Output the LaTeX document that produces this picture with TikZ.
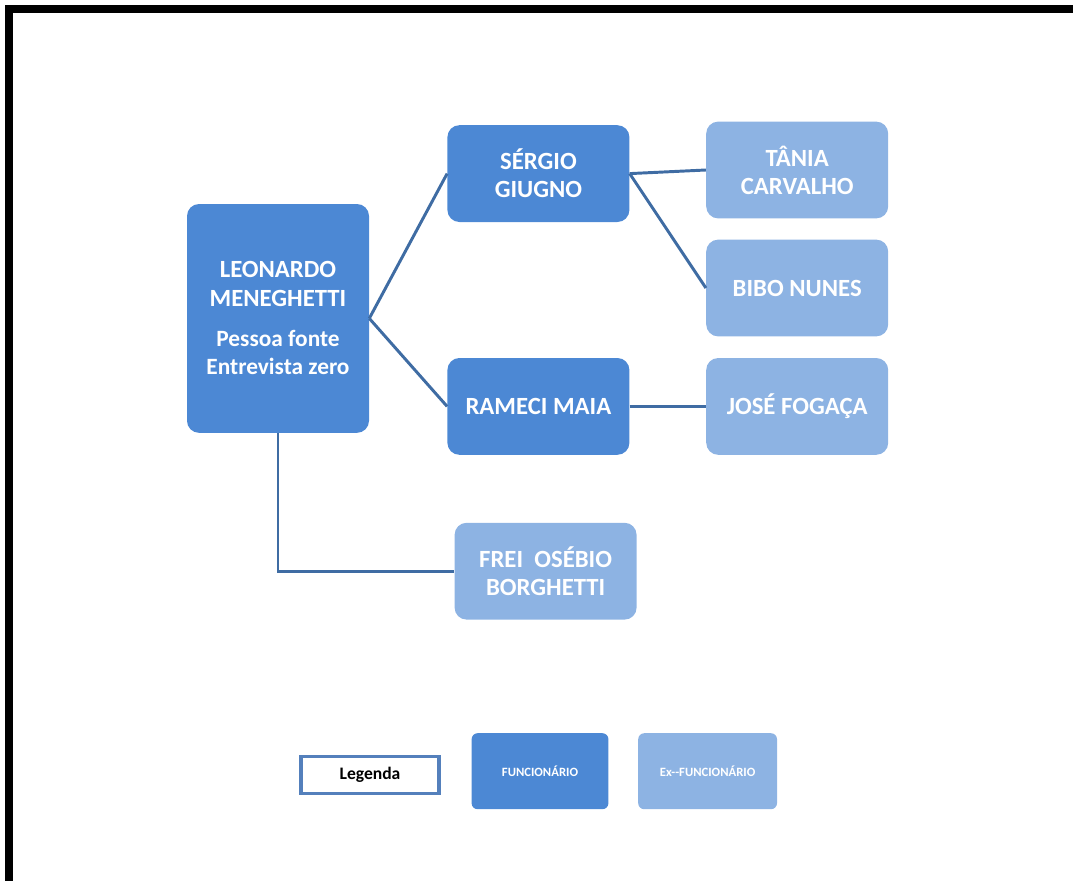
\documentclass[tikz,border=0pt]{standalone}
\usepackage{fontspec}
\setmainfont{Carlito}
\definecolor{staffblue}{RGB}{76,136,212}
\definecolor{formerblue}{RGB}{141,179,227}
\definecolor{linkblue}{RGB}{63,108,163}
\definecolor{legendblue}{RGB}{84,128,188}

\begin{document}
\begin{tikzpicture}[
    person/.style={rectangle, rounded corners=0.3cm, fill=staffblue, text=white, align=center, minimum width=4.55cm, minimum height=2.42cm, font=\fontsize{17.6}{20}\selectfont\bfseries},
    former/.style={person, fill=formerblue},
    link/.style={draw=linkblue, line width=2.1pt},
    legbox/.style={rectangle, rounded corners=0.15cm, text=white, minimum width=3.42cm, minimum height=1.9cm, font=\fontsize{9}{10}\selectfont\bfseries}
]
    \useasboundingbox (0,0) rectangle (26.825,-22.025);
    % Frame (left and top only)
    \fill (0.125,-0.125) rectangle (0.325,-22.025);
    \fill (0.125,-0.125) rectangle (26.825,-0.325);

    % Column 1: source
    \node[person, minimum height=5.72cm] (leo) at (6.95,-7.96) {LEONARDO\\MENEGHETTI\\[9pt]{\fontsize{16.6}{20}\selectfont Pessoa fonte}\\{\fontsize{16.6}{20}\selectfont Entrevista zero}};

    % Column 2
    \node[person] (sergio) at (13.46,-4.34) {SÉRGIO\\GIUGNO};
    \node[person] (rameci) at (13.46,-10.16) {RAMECI MAIA};
    \node[former] (frei) at (13.64,-14.28) {FREI \ OSÉBIO\\BORGHETTI};

    % Column 3
    \node[former] (tania) at (19.93,-4.25) {TÂNIA\\CARVALHO};
    \node[former] (bibo) at (19.93,-7.2) {BIBO NUNES};
    \node[former] (jose) at (19.93,-10.16) {JOSÉ FOGAÇA};

    % Links
    \draw[link] (leo.east) -- (sergio.west);
    \draw[link] (leo.east) -- (rameci.west);
    \draw[link] (sergio.east) -- (tania.west);
    \draw[link] (sergio.east) -- (bibo.west);
    \draw[link] (rameci) -- (jose);
    \draw[link] (leo.south) |- (frei.west);

    % Legend
    \node[draw=legendblue, line width=2.2pt, fill=white, minimum width=3.45cm, minimum height=0.92cm, font=\fontsize{12.5}{14}\selectfont\bfseries] (legenda) at (9.25,-19.38) {Legenda};
    \node[legbox, fill=staffblue] (func) at (13.5,-19.28) {FUNCIONÁRIO};
    \node[legbox, fill=formerblue, minimum width=3.47cm] (exfunc) at (17.69,-19.28) {Ex-{}-FUNCIONÁRIO};
\end{tikzpicture}
\end{document}
